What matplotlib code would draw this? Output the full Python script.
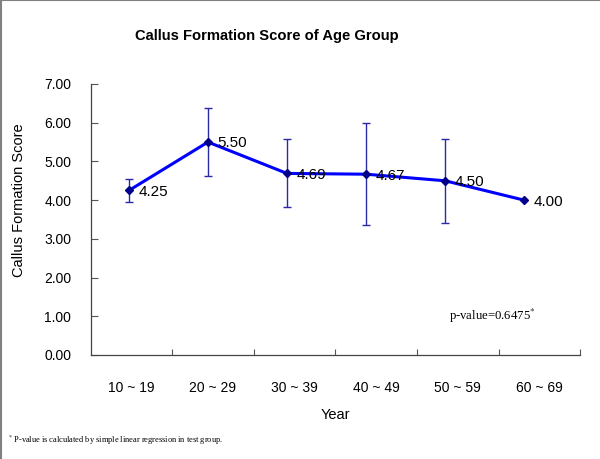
import matplotlib
matplotlib.use("Agg")
import matplotlib.pyplot as plt
from matplotlib.lines import Line2D
import numpy as np

categories = ["10 ~ 19", "20 ~ 29", "30 ~ 39", "40 ~ 49", "50 ~ 59", "60 ~ 69"]
scores = [4.25, 5.50, 4.69, 4.67, 4.50, 4.00]
errors = [0.30, 0.87, 0.88, 1.31, 1.08, 0.0]
yticks = [0, 1, 2, 3, 4, 5, 6, 7]

plt.rcParams['font.family'] = ['Liberation Sans', 'DejaVu Sans']
plt.rcParams['mathtext.fontset'] = 'stix'

fig = plt.figure(figsize=(6.0, 4.59), dpi=100)
ax = fig.add_axes([0.151, 0.2266, 0.816, 0.5904])

# main axis: category slots
n = len(categories)
ax.set_xlim(0, n)
ax.set_ylim(0, 7)
ax.set_xticks(np.arange(1, n + 1))
ax.set_xticklabels([])
ax.set_xticks(np.arange(n) + 0.5, minor=True)
ax.set_xticklabels(categories, minor=True, fontsize=10)
ax.tick_params(axis='x', which='major', direction='in', length=4, width=0.8, color='#555555')
ax.tick_params(axis='x', which='minor', length=0, pad=19)
ax.set_yticks(yticks)
ax.set_yticklabels([f"{v:.2f}" for v in yticks], fontsize=10)
ax.tick_params(axis='y', direction='in', length=5, width=0.8, color='#555555', pad=14)
for s in ['top', 'right']:
    ax.spines[s].set_visible(False)
for s in ['left', 'bottom']:
    ax.spines[s].set_color('#444444')
    ax.spines[s].set_linewidth(0.9)
ax.set_xlabel("Year", fontsize=10.5, labelpad=9)

# line axis (points sit slightly left of slot centers in the original)
lx = ax.twiny()
lx.set_xlim(-0.485, 5.71)
lx.set_ylim(0, 7)
lx.axis('off')
x = np.arange(n)
yerr = np.array(errors)
mask = yerr > 0
lx.errorbar(x[mask], np.array(scores)[mask], yerr=yerr[mask], fmt='none',
            ecolor='#2a2aa8', elinewidth=1.0, capsize=3, capthick=1.0, zorder=2)
lx.plot(x, scores, color='#0000ff', linewidth=2.2, zorder=3)
lx.plot(x, scores, linestyle='none', marker='D', markersize=4.5,
        color='#00008b', zorder=4)
for xi, yi in zip(x, scores):
    lx.annotate(f"{yi:.2f}", (xi, yi), xytext=(7, -1), textcoords='offset points',
                ha='left', va='center', fontsize=11, color='black', zorder=5)

fig.text(0.445, 1 - 36 / 459, "Callus Formation Score of Age Group",
         ha='center', va='center', fontsize=10.6, fontweight='bold')
fig.text(19 / 600, 1 - 200 / 459, "Callus Formation Score", rotation=90,
         ha='center', va='center', fontsize=10.5)
fig.text(449 / 600, 1 - 316 / 459, r"p-value=0.6475$^{*}$",
         ha='left', va='center', fontsize=9.2, family='Liberation Serif')
fig.text(8 / 600, 1 - 440 / 459,
         r"$^{*}$ P-value is calculated by simple linear regression in test group.",
         ha='left', va='center', fontsize=6.0, family='Liberation Serif',
         color='black')

# outer frame lines (top and left, as in original)
fig.add_artist(Line2D([0, 1], [0.999, 0.999], transform=fig.transFigure,
                      color='#808080', linewidth=1.5))
fig.add_artist(Line2D([0.002, 0.002], [0, 1], transform=fig.transFigure,
                      color='#808080', linewidth=1.5))

fig.savefig("out.png", dpi=100)
